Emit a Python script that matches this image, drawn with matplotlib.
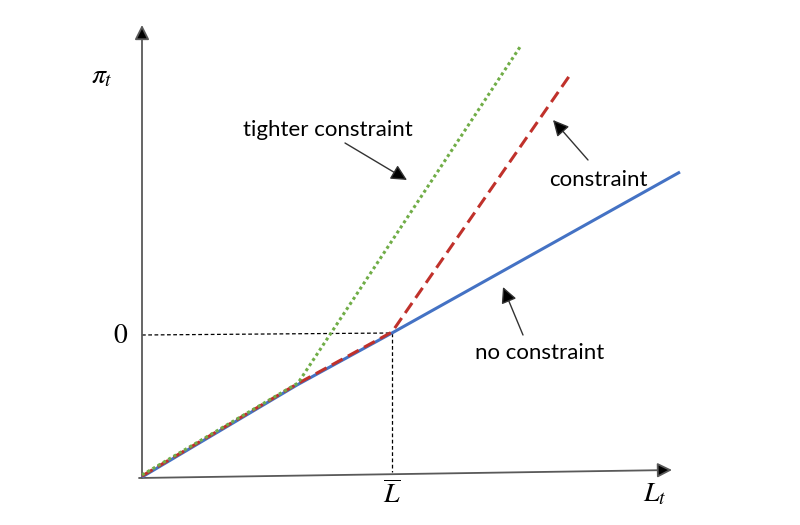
import matplotlib
matplotlib.use("Agg")
import matplotlib.pyplot as plt

plt.rcParams["mathtext.fontset"] = "stix"

# ---- data (conceptual units) ----
blue_x = [0.0, 3.1, 5.0, 10.76]
blue_y = [0.0, 1.84, 2.88, 6.1]
red_x = [0.0, 3.1, 5.0, 8.56]
red_y = [0.02, 1.86, 2.90, 8.04]
green_x = [0.0, 3.12, 7.56]
green_y = [0.04, 1.88, 8.6]
Lbar = 5.0
pi0 = 2.88
xaxis_end = (10.6, 0.14)
xaxis_start = (-0.06, -0.02)
yaxis_top = 9.04

labels = {
    "tighter": ("tighter constraint", (3.72, 6.94), (4.06, 6.68), (5.3, 5.94)),
    "constraint": ("constraint", (9.12, 5.94), (8.92, 6.34), (8.22, 7.14)),
    "none": ("no constraint", (7.96, 2.48), (7.62, 2.84), (7.22, 3.8)),
}

fig = plt.figure(figsize=(8, 5.25), dpi=100)
ax = fig.add_axes([0, 0, 1, 1])
ax.set_xlim(-2.84, 13.16)
ax.set_ylim(-0.96, 9.54)
ax.axis("off")

axis_col = "#595959"
# axes with arrow heads
ax.annotate("", xy=xaxis_end, xytext=xaxis_start,
            arrowprops=dict(arrowstyle="-|>", color=axis_col, lw=1.3,
                            mutation_scale=22, shrinkA=0, shrinkB=0,
                            fc="black", ec=axis_col))
ax.annotate("", xy=(0, yaxis_top), xytext=(0, -0.02),
            arrowprops=dict(arrowstyle="-|>", color=axis_col, lw=1.3,
                            mutation_scale=22, shrinkA=0, shrinkB=0,
                            fc="black", ec=axis_col))

# guide lines
ax.plot([0, Lbar], [pi0 - 0.04, pi0], color="black", lw=0.9, ls=(0, (3, 2)))
ax.plot([Lbar, Lbar], [pi0, 0.1], color="black", lw=0.9, ls=(0, (3, 2)))

# curves
ax.plot(blue_x, blue_y, color="#4472C4", lw=2.2, solid_capstyle="butt", zorder=3)
ax.plot(red_x, red_y, color="#C0312B", lw=2.2, dashes=(4, 2), dash_capstyle="butt", zorder=4)
ax.plot(green_x, green_y, color="#70AD47", lw=2.2, dashes=(1, 1), dash_capstyle="butt", zorder=5)

# math labels
mfont = dict(fontsize=20, color="black")
ax.text(-0.8, 8.04, r"$\pi_t$", ha="center", va="center", **mfont)
ax.text(-0.42, 2.84, r"$0$", ha="center", va="center", **mfont)
ax.text(Lbar, -0.36, r"$\overline{L}$", ha="center", va="center", **mfont)
ax.text(10.26, -0.32, r"$L_t$", ha="center", va="center", **mfont)

# annotations
for key, (txt, tpos, a0, a1) in labels.items():
    ax.text(tpos[0], tpos[1], txt, ha="center", va="center", fontsize=16,
            family="Lato", color="black")
    ax.annotate("", xy=a1, xytext=a0,
                arrowprops=dict(arrowstyle="-|>", color="#333333", lw=1.0,
                                mutation_scale=24, shrinkA=0, shrinkB=0,
                                fc="black", ec="#333333"))

fig.savefig("out.png", dpi=100)
